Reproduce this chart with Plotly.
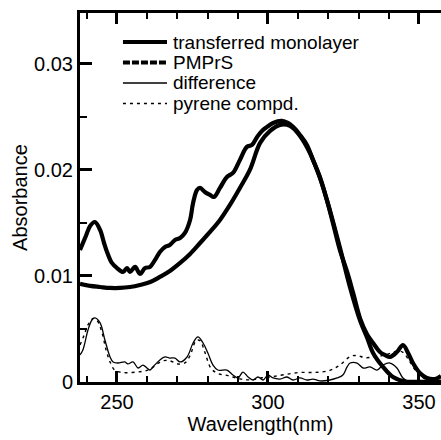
import plotly.graph_objects as go

# ---- data ----
tm_nm = [237.75, 239.7, 241.1, 242.7, 244.4, 245.7, 246.7, 248.3, 250.0, 252.0, 253.3, 254.3, 256.0, 257.6,
         259.3, 260.9, 262.6, 264.2, 265.9, 267.5, 269.2, 270.9, 272.5, 274.2, 275.2, 276.5, 277.5, 279.1,
         280.8, 282.1, 284.1, 286.4, 288.4, 290.7, 293.0, 294.7, 296.4, 298.0, 299.7, 301.7, 304.6, 306.6,
         308.3, 310.6, 312.9, 314.9, 317.2, 319.5, 321.5, 323.8, 326.2, 328.2, 330.5, 332.8, 334.8, 337.1,
         338.7, 340.4, 342.7, 344.7, 346.4, 348.0, 350.3, 352.6, 355.3, 357.3]
tm_abs = [0.01245, 0.01377, 0.01472, 0.01509, 0.01434, 0.01311, 0.01226, 0.01123, 0.01075, 0.01038, 0.01075,
          0.01038, 0.01085, 0.01019, 0.01075, 0.01085, 0.01151, 0.01226, 0.01274, 0.01292, 0.01340, 0.01358,
          0.01406, 0.01528, 0.01689, 0.01811, 0.01830, 0.01792, 0.01764, 0.01745, 0.01830, 0.01934, 0.01972,
          0.02094, 0.02217, 0.02236, 0.02311, 0.02368, 0.02406, 0.02443, 0.02462, 0.02443, 0.02406, 0.02330,
          0.02236, 0.02094, 0.01934, 0.01717, 0.01500, 0.01245, 0.01040, 0.00840, 0.00600, 0.00450, 0.00368,
          0.00283, 0.00255, 0.00236, 0.00283, 0.00349, 0.00274, 0.00179, 0.00085, 0.00038, 0.00028, 0.00057]

pm_nm = [237.75, 241.1, 244.4, 247.7, 251.0, 254.3, 257.6, 261.0, 264.2, 267.5, 270.9, 274.2, 277.5, 280.8,
         284.1, 287.4, 290.7, 294.0, 297.4, 300.7, 304.0, 307.3, 310.6, 313.9, 317.2, 320.5, 323.8, 327.2,
         330.5, 332.8, 334.8, 338.1, 341.4, 345.4, 350.3, 357.3]
pm_abs = [0.00925, 0.00906, 0.00896, 0.00887, 0.00887, 0.00896, 0.00915, 0.00943, 0.00991, 0.01047, 0.01123,
          0.01208, 0.01311, 0.01415, 0.01528, 0.01670, 0.01830, 0.02000, 0.02255, 0.02368, 0.02425, 0.02415,
          0.02321, 0.02160, 0.01925, 0.01620, 0.01270, 0.00890, 0.00580, 0.00420, 0.00274, 0.00142, 0.00047,
          0.00005, 0.00002, 0.00003]

df_nm = [237.75, 238.7, 240.4, 241.7, 242.7, 244.4, 246.0, 247.7, 248.7, 250.3, 252.6, 253.6, 255.3, 257.0,
         258.6, 259.9, 260.9, 261.9, 264.2, 265.9, 267.5, 269.2, 270.9, 273.2, 275.2, 276.8, 278.5, 280.1,
         281.8, 283.4, 286.4, 288.4, 290.1, 291.7, 293.4, 295.0, 296.7, 298.4, 300.0, 301.7, 304.0, 306.3,
         308.3, 310.6, 312.9, 314.9, 317.2, 320.5, 322.9, 324.8, 326.2, 327.2, 329.5, 331.5, 333.8, 336.1,
         338.1, 340.4, 342.7, 344.7, 347.0, 350.3, 353.6, 357.3]
df_abs = [0.00255, 0.00302, 0.00491, 0.00585, 0.00604, 0.00557, 0.00396, 0.00236, 0.00189, 0.00179, 0.00189,
          0.00170, 0.00189, 0.00132, 0.00160, 0.00132, 0.00113, 0.00142, 0.00208, 0.00236, 0.00226, 0.00226,
          0.00189, 0.00236, 0.00368, 0.00425, 0.00368, 0.00274, 0.00160, 0.00113, 0.00113, 0.00066, 0.00038,
          0.00094, 0.00047, 0.00019, 0.00047, 0.00019, 0.00066, 0.00038, 0.00028, 0.00047, 0.00019, 0.00038,
          0.00019, 0.00028, 0.00010, 0.00019, 0.00038, 0.00066, 0.00142, 0.00179, 0.00179, 0.00132, 0.00142,
          0.00113, 0.00160, 0.00179, 0.00132, 0.00038, 0.00000, 0.00010, 0.00000, 0.00000]

py_nm = [237.75, 239.1, 240.4, 242.1, 243.4, 245.0, 246.4, 247.7, 249.3, 251.7, 255.0, 258.3, 260.9, 263.3,
         265.2, 267.5, 270.2, 272.5, 274.2, 276.2, 277.5, 279.1, 281.1, 283.4, 286.8, 290.7, 294.7, 298.0,
         301.3, 305.6, 310.6, 315.6, 320.5, 323.8, 327.2, 329.5, 332.1, 336.1, 339.4, 342.7, 344.7, 347.0,
         349.7, 352.7, 357.3]
py_abs = [0.0035, 0.0044, 0.0054, 0.0060, 0.0058, 0.0047, 0.0030, 0.0019, 0.0011, 0.0009, 0.0009, 0.0010,
          0.0012, 0.0017, 0.0020, 0.0020, 0.0017, 0.0018, 0.0025, 0.0039, 0.0039, 0.0028, 0.0013, 0.0008,
          0.0006, 0.0003, 0.0002, 0.0004, 0.0005, 0.0007, 0.0009, 0.0009, 0.0011, 0.0016, 0.0024, 0.0025,
          0.0023, 0.0024, 0.0026, 0.0029, 0.0028, 0.0019, 0.0008, 0.0002, 0.0000]

series_names = ["transferred monolayer", "PMPrS", "difference", "pyrene compd."]
x_ticks = [250, 300, 350]
y_ticks = [0, 0.01, 0.02, 0.03]
y_tick_text = ["0", "0.01", "0.02", "0.03"]

FONT = "Liberation Sans, Arial, sans-serif"

fig = go.Figure()
styles = [
    dict(color="black", width=4.2),
    dict(color="black", width=4.2),
    dict(color="black", width=1.3),
    dict(color="black", width=1.4, dash="3px,4px"),
]
for name, xs, ys, st in zip(series_names, [tm_nm, pm_nm, df_nm, py_nm],
                            [tm_abs, pm_abs, df_abs, py_abs], styles):
    fig.add_trace(go.Scatter(x=xs, y=ys, mode="lines", name=name, line=st,
                             line_shape="spline", showlegend=False))

# ---- manual legend (paper coordinates) ----
leg_styles = [
    dict(color="black", width=4.2),
    dict(color="black", width=4.2, dash="7px,2px"),
    dict(color="black", width=1.3),
    dict(color="black", width=1.4, dash="3px,4px"),
]
leg_y = [0.9214, 0.8659, 0.8103, 0.7547]
for name, st, yy in zip(series_names, leg_styles, leg_y):
    fig.add_shape(type="line", xref="paper", yref="paper", x0=0.119, x1=0.241,
                  y0=yy, y1=yy, line=st)
    fig.add_annotation(xref="paper", yref="paper", x=0.252, y=yy, text=name,
                       showarrow=False, xanchor="left", yanchor="middle",
                       font=dict(family=FONT, size=19, color="black"))

axis_common = dict(ticks="inside", showgrid=False, zeroline=False, linecolor="black",
                   tickcolor="black", tickfont=dict(family=FONT, size=20, color="black"))

fig.update_layout(
    width=441, height=440,
    margin=dict(l=80, r=0, t=13, b=58),
    paper_bgcolor="white", plot_bgcolor="white",
    font=dict(family=FONT, color="black"),
    xaxis=dict(range=[237.75, 357.3], tickvals=x_ticks, ticklen=11, tickwidth=2.5,
               showline=True, linewidth=3, mirror="ticks",
               minor=dict(dtick=10, tick0=250, ticks="inside", ticklen=6, tickwidth=1.5,
                          tickcolor="black"),
               title=dict(text="Wavelength(nm)", font=dict(family=FONT, size=20), standoff=1),
               **axis_common),
    yaxis=dict(range=[0, 0.0348], tickvals=y_ticks, ticktext=y_tick_text, ticklen=12,
               tickwidth=2.5, showline=True, linewidth=3, mirror=False,
               minor=dict(dtick=0.005, ticks="inside", ticklen=7, tickwidth=1.5, tickcolor="black"),
               title=dict(text="Absorbance", font=dict(family=FONT, size=20), standoff=2),
               **axis_common),
    yaxis2=dict(range=[0, 0.0348], overlaying="y", side="right", tickvals=y_ticks,
                showticklabels=False, ticks="inside", ticklen=5, tickwidth=2,
                tickcolor="black", showline=False, showgrid=False, zeroline=False),
)

fig.write_html("out.html")
